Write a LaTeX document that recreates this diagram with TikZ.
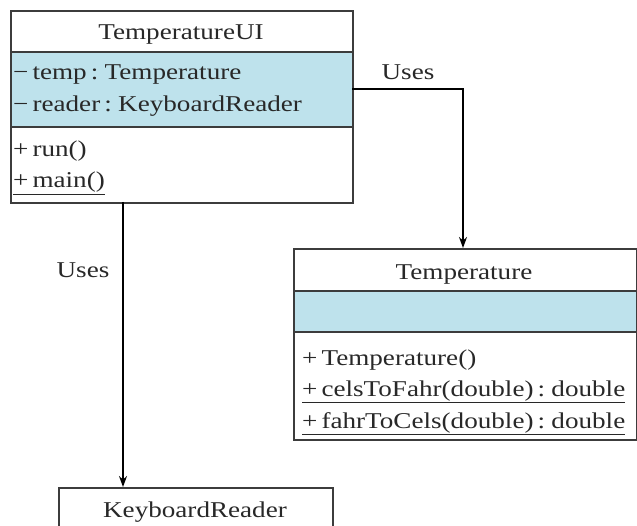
\documentclass[tikz,border=0pt]{standalone}
\usepackage{fontspec}
\setmainfont{Liberation Serif}[FakeStretch=1.2,WordSpace=0.6]
\usetikzlibrary{arrows.meta}
\definecolor{clsfill}{RGB}{190,226,236}
\definecolor{ink}{RGB}{40,40,40}
\definecolor{edge}{RGB}{60,60,60}
\tikzset{
  classbox/.style={draw=edge, line width=1.8pt, anchor=north west, inner sep=0pt},
  sep/.style={draw=edge, line width=1.6pt},
  member/.style={anchor=base west, inner sep=0pt, text=ink, font=\fontsize{22.6}{27}\selectfont},
  title/.style={anchor=base, inner sep=0pt, text=ink, font=\fontsize{22.6}{27}\selectfont},
  lbl/.style={anchor=base, inner sep=0pt, text=ink, font=\fontsize{22.6}{27}\selectfont},
  conn/.style={draw=black, line width=1.5pt, -{Stealth[length=11pt,width=8pt]}},
}
\newcommand{\ul}[1]{\underline{#1}}
\begin{document}
\begin{tikzpicture}[x=1pt,y=-1pt]
\useasboundingbox (0,0) rectangle (637,526);
\clip (0,0) rectangle (637,526);
\fill[white] (0,0) rectangle (637,526);
% TemperatureUI
\fill[clsfill] (10,52) rectangle (352,127);
\node[classbox, minimum width=342pt, minimum height=192pt] (tui) at (10,10) {};
\draw[sep] (10,52) -- (352,52);
\draw[sep] (10,127) -- (352,127);
\node[title] (tuiname) at (181,40) {TemperatureUI};
\node[member] (tuia1) at (13,80) {− temp : Temperature};
\node[member] (tuia2) at (13,112) {− reader : KeyboardReader};
\node[member] (tuim1) at (13,157) {+ run()};
\node[member] (tuim2) at (13,188) {\ul{+ main()}};
% Temperature
\fill[clsfill] (293,291) rectangle (636,332);
\node[classbox, minimum width=343pt, minimum height=191pt] (temp) at (293,248) {};
\draw[sep] (293,291) -- (636,291);
\draw[sep] (293,332) -- (636,332);
\node[title] (tempname) at (464,280) {Temperature};
\node[member] (tempm1) at (302,366) {+ Temperature()};
\node[member] (tempm2) at (302,396) {\ul{+ celsToFahr(double) : double}};
\node[member] (tempm3) at (302,428) {\ul{+ fahrToCels(double) : double}};
% KeyboardReader
\node[classbox, minimum width=274pt, minimum height=60pt] (kbr) at (58,487) {};
\node[title] (kbrname) at (195,517) {KeyboardReader};
% connectors
\coordinate (s1) at (352,89);
\coordinate (t1) at (463,248);
\draw[conn] (s1) -| (t1);
\coordinate (s2) at (123,202);
\coordinate (t2) at (123,487);
\draw[conn] (s2) -- (t2);
\node[lbl] (uses1) at (408,80) {Uses};
\node[lbl] (uses2) at (83,278) {Uses};
\end{tikzpicture}
\end{document}
